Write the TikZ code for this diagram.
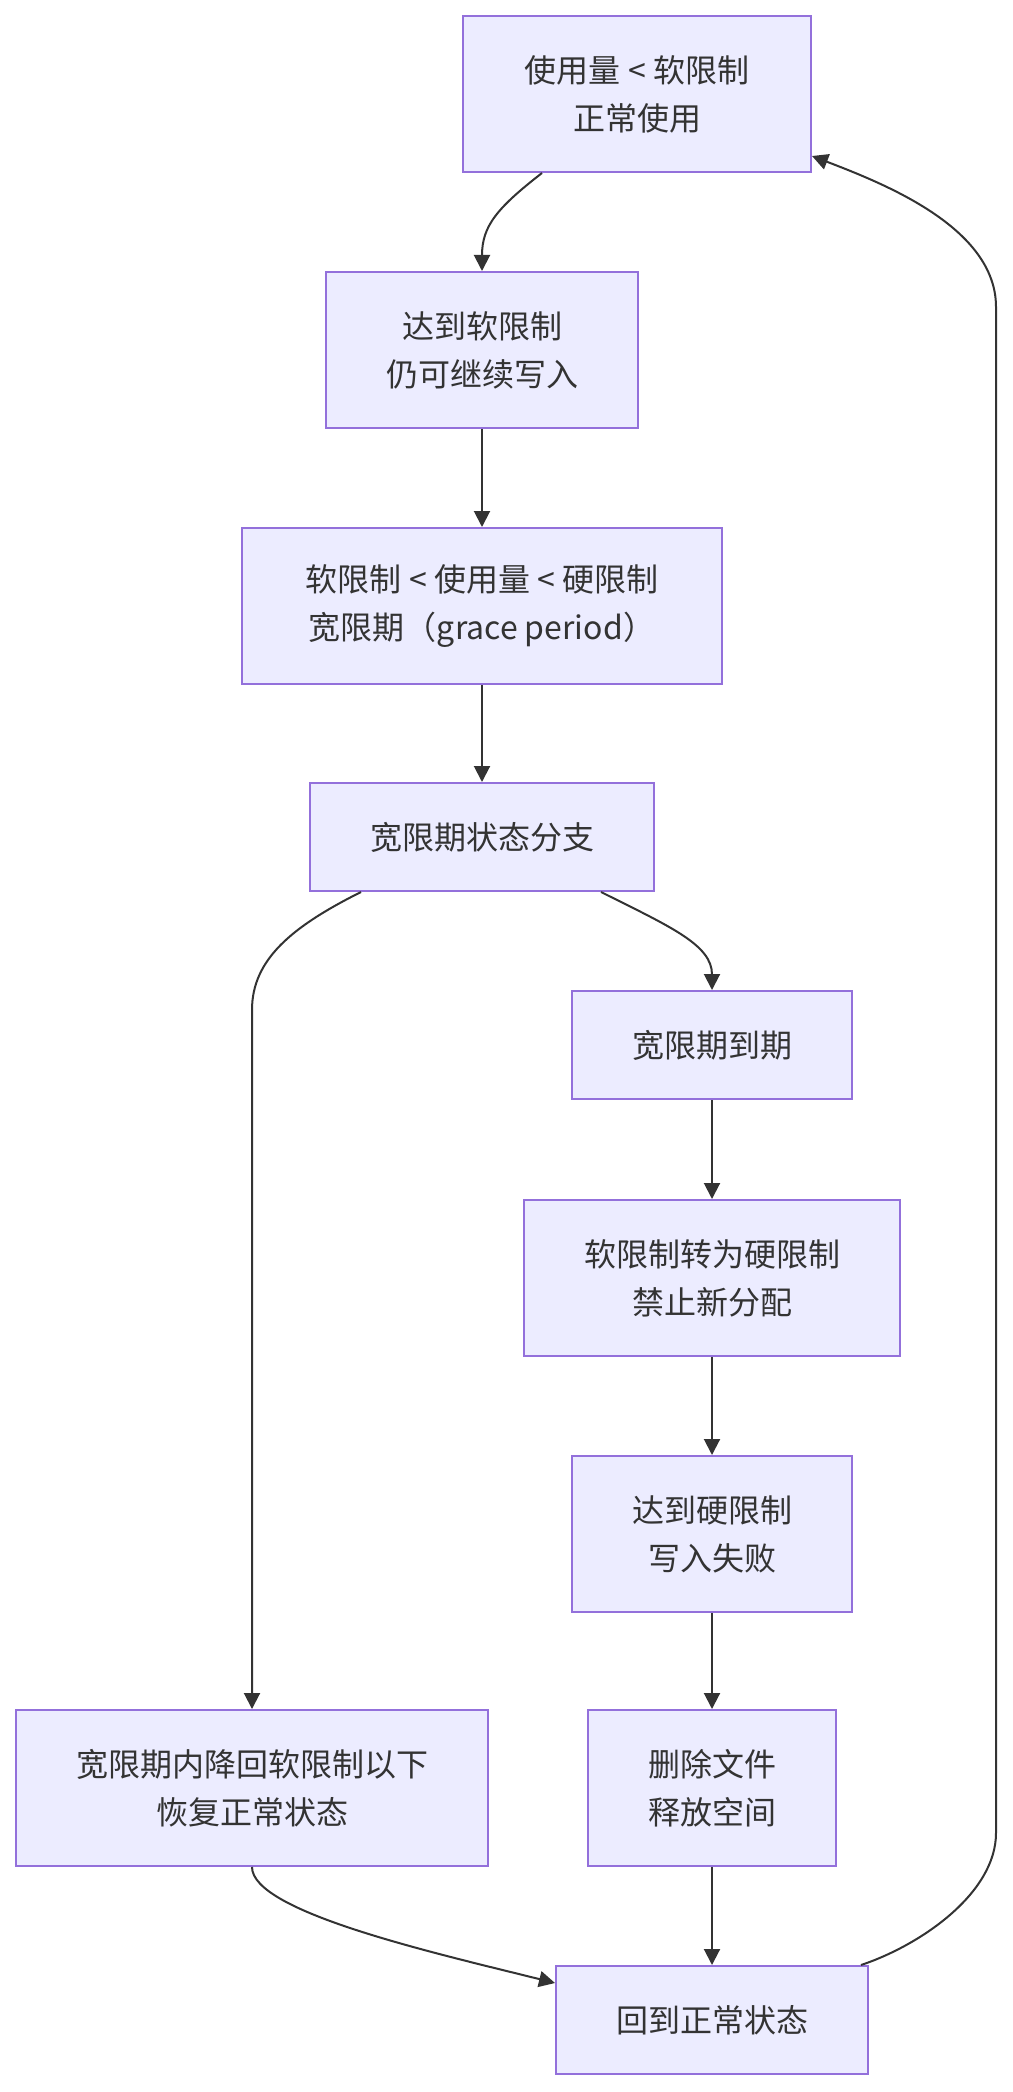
\documentclass[tikz,border=0pt]{standalone}
\usepackage{fontspec}
\setmainfont{Noto Sans CJK SC}
\usetikzlibrary{arrows.meta}
\definecolor{boxfill}{HTML}{ECECFF}
\definecolor{boxline}{HTML}{9370DB}
\definecolor{ink}{HTML}{333333}

\begin{document}
\begin{tikzpicture}[x=1pt,y=-1pt,>={Triangle[length=16pt,width=16pt]},
  state/.style={draw=boxline,fill=boxfill,line width=2pt,text=ink,align=center,
    inner xsep=60pt,inner ysep=0pt,font=\fontsize{32}{48}\selectfont},
  oneline/.style={state,minimum height=108pt},
  twoline/.style={state,minimum height=156pt},
  flow/.style={->,draw=ink,line width=2pt}]
\useasboundingbox (0,0) rectangle (1012,2092);
\node[twoline,minimum width=348pt] (use) at (637,94) {使用量 < 软限制\\正常使用};
\node[twoline] (soft) at (482,350) {达到软限制\\仍可继续写入};
\node[twoline,minimum width=480pt] (grace) at (482,606) {软限制 < 使用量 < 硬限制\\宽限期（grace period）};
\node[oneline] (branch) at (482,837) {宽限期状态分支};
\node[oneline] (expire) at (712,1045) {宽限期到期};
\node[twoline] (hard) at (712,1278) {软限制转为硬限制\\禁止新分配};
\node[twoline] (fail) at (712,1534) {达到硬限制\\写入失败};
\node[twoline] (back) at (252,1788) {宽限期内降回软限制以下\\恢复正常状态};
\node[twoline] (del) at (712,1788) {删除文件\\释放空间};
\node[oneline] (normal) at (712,2020) {回到正常状态};
\coordinate (turnL) at (252,1010);
\coordinate (loopB) at (996,1833);
\coordinate (loopT) at (996,307);
\draw[flow] ([xshift=-95pt]use.south) .. controls +(-45,35) and +(0,-45) .. (soft.north);
\draw[flow] (soft) -- (grace);
\draw[flow] (grace) -- (branch);
\draw[flow] ([xshift=-121pt]branch.south) .. controls +(-70,35) and +(0,-50) .. (turnL) -- (back.north);
\draw[flow] ([xshift=119pt]branch.south) .. controls +(70,35) and +(0,-45) .. (expire.north);
\draw[flow] (expire) -- (hard);
\draw[flow] (hard) -- (fail);
\draw[flow] (fail) -- (del);
\draw[flow] (del) -- (normal);
\draw[flow] (back.south) .. controls +(0,45) and +(-120,-30) .. ([yshift=-18pt]normal.north west);
\draw[flow] ([xshift=-8pt]normal.north east) .. controls +(60,-20) and +(0,60) .. (loopB) -- (loopT) .. controls +(0,-80) and +(70,27) .. ([yshift=17pt]use.south east);
\end{tikzpicture}
\end{document}
